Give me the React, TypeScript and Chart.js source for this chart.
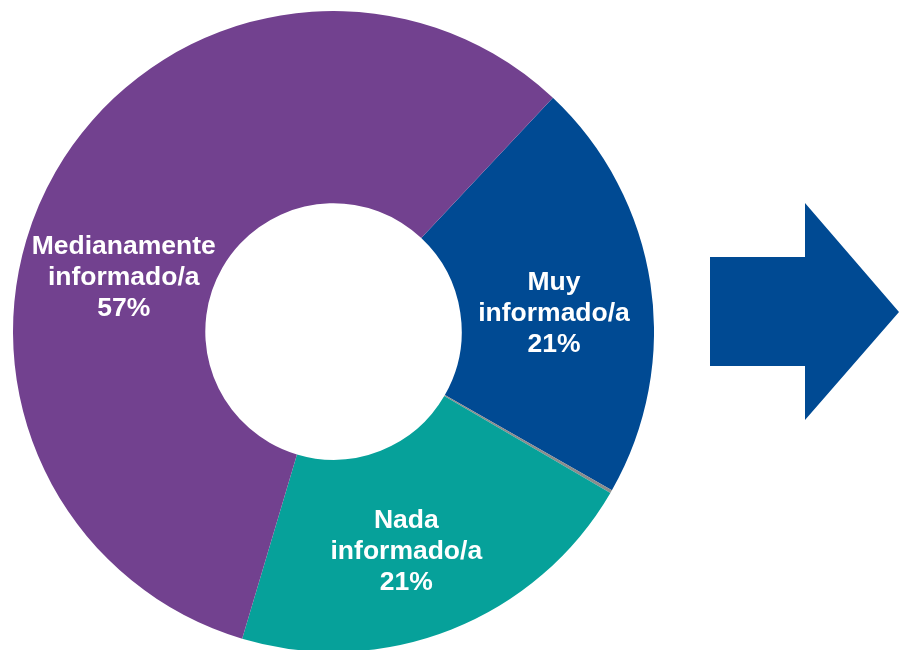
import React, { useEffect, useRef } from "react";
import { Chart, registerables } from "chart.js";

Chart.register(...registerables);

const categories: string[] = ["Muy informado/a", "Otro", "Nada informado/a", "Medianamente informado/a"];
const values: number[] = [21.25, 0.15, 21.2, 57.4];
const percentLabels: string[] = ["21%", "", "21%", "57%"];
const labelLines: string[][] = [["Muy", "informado/a"], [], ["Nada", "informado/a"], ["Medianamente", "informado/a"]];
const colors: string[] = ["#004A93", "#8C8C8C", "#06A19A", "#72418F"];

const labelPlugin = {
  id: "sliceLabels",
  afterDatasetsDraw(chart: any, _args: any, opts: any) {
    const ctx = chart.ctx;
    const meta = chart.getDatasetMeta(0);
    const shifts: number[] = opts.angleShift || [];
    const radii: number[] = opts.radiusShift || [];
    const ys: number[] = opts.yShift || [];
    ctx.save();
    ctx.fillStyle = "#FFFFFF";
    ctx.font = "bold 26.5px 'Liberation Sans', Arial, sans-serif";
    ctx.textAlign = "center";
    ctx.textBaseline = "middle";
    meta.data.forEach((arc: any, i: number) => {
      const lines = [...labelLines[i]];
      if (percentLabels[i]) lines.push(percentLabels[i]);
      if (!lines.length) return;
      const p = arc.getProps(["x", "y", "startAngle", "endAngle", "innerRadius", "outerRadius"], true);
      const mid = (p.startAngle + p.endAngle) / 2 + ((shifts[i] || 0) * Math.PI) / 180;
      const r = (p.innerRadius + p.outerRadius) / 2 + (radii[i] || 0);
      const cx = p.x + r * Math.cos(mid);
      const cy = p.y + r * Math.sin(mid) + (ys[i] || 0);
      const lh = 31;
      const top = cy - ((lines.length - 1) * lh) / 2;
      lines.forEach((t, j) => ctx.fillText(t, cx, top + j * lh));
    });
    ctx.restore();
  },
};

export default function App() {
  const ref = useRef<HTMLCanvasElement | null>(null);
  useEffect(() => {
    document.body.style.margin = "0";
    if (!ref.current) return;
    const chart = new Chart(ref.current, {
      type: "doughnut",
      data: {
        labels: categories,
        datasets: [
          {
            data: values,
            backgroundColor: colors,
            borderColor: colors,
            borderWidth: 0,
          },
        ],
      },
      options: {
        responsive: false,
        animation: false,
        cutout: "40%",
        rotation: 43.2,
        layout: { padding: 0 },
        plugins: {
          legend: { display: false },
          tooltip: { enabled: false },
          sliceLabels: { angleShift: [3.6, 0, 3, -14.7], radiusShift: [-3, 0, 4, -7], yShift: [1.5, 0, 4, 3] },
        } as any,
      },
      plugins: [labelPlugin],
    });
    return () => chart.destroy();
  }, []);
  return (
    <div style={{ position: "relative", width: 899, height: 650, overflow: "hidden", background: "#FFFFFF" }}>
      <canvas ref={ref} width={641} height={641} style={{ position: "absolute", left: 13, top: 11 }} />
      <svg width={899} height={650} style={{ position: "absolute", left: 0, top: 0 }}>
        <polygon points="710,257 805,257 805,203 899,312 805,420 805,366 710,366" fill="#004A93" />
      </svg>
    </div>
  );
}
